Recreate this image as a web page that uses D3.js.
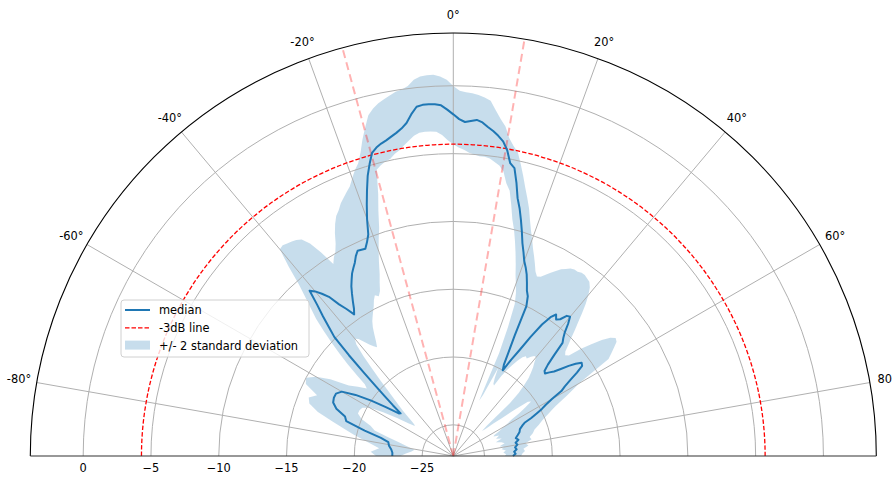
<!DOCTYPE html>
<html><head><meta charset="utf-8">
<script src="https://cdn.jsdelivr.net/npm/d3@7"></script>
<style>body{margin:0;background:#fff}svg{display:block}text{font-family:"DejaVu Sans",sans-serif;fill:#000}</style>
</head><body><svg id="chart" width="892" height="478"></svg>
<script>
// angle in degrees (0 = up, positive = clockwise)
const angles = [-90,-87,-84,-81,-78,-76,-74,-72,-70,-68,-66,-64,-62,-60,-58,-56,-54,-52,
 -51,-50,-49,-48,-47,-46,-45,-44,-43,-42,
 -41,-40,-39,-38,-37,-36,-35,-34,-33,-32,
 -31,-30,-29,-28,-27,-26,-25,-24,-23,-22,
 -21,-20,-19,-18,-17,-16,-15,-14,-13,-12,
 -11,-10,-9,-8,-7,-6,-5,-4,-3,-2,
 -1,0,1,2,3,4,5,6,7,8,
 9,10,11,12,13,14,15,16,17,18,
 19,20,21,22,23,24,25,26,27,28,
 29,30,31,32,33,34,35,36,37,38,
 39,40,41,42,43,44,45,46,47,48,
 49,50,51,52,53,54,55,56,57,58,
 59,60,61,62,63,64,65,66,
 68,70,72,74,76,78,80,82,84,86,88,90];
const median = [-22.8,-22.8,-22.7,-22.5,-22.4,-21.8,-20.5,-19.0,-18.8,-18.0,-17.6,-17.5,-17.5,-17.8,-18.8,-20.0,-21.2,-22.2,
 -22.3,-21.5,-20.7,-19.6,-18.3,-16.6,-14.9,-14.1,-13.2,-12.3,
 -11.15,-11.45,-11.9,-12.4,-13.3,-13.9,-14.55,-14.2,-13.7,-13.2,
 -12.7,-12.3,-11.9,-11.6,-11.3,-10.9,-10.6,-10.65,-10.7,-10.3,
 -9.8,-8.7,-7.7,-6.7,-5.7,-4.9,-4.15,-3.85,-3.65,-3.5,
 -3.3,-3.1,-2.85,-2.5,-1.9,-1.4,-1.3,-1.3,-1.32,-1.42,
 -1.75,-2.1,-2.45,-2.65,-2.55,-2.45,-2.6,-2.9,-3.15,-3.45,
 -3.8,-4.4,-5.3,-5.6,-6.6,-7.7,-8.4,-9.2,-10.0,-10.8,
 -11.4,-12.0,-12.4,-12.85,-13.4,-13.95,-14.3,-15.0,-17.3,-18.6,
 -19.6,-20.0,-19.0,-18.1,-16.8,-15.6,-14.8,-14.4,-14.7,-14.5,
 -14.0,-13.9,-14.4,-15.0,-15.4,-15.7,-16.8,-17.6,-18.1,-18.2,
 -17.9,-17.6,-17.1,-16.5,-16.0,-15.6,-15.7,-16.3,-17.0,-17.6,
 -18.0,-18.9,-19.5,-19.9,-20.4,-20.9,-21.5,-21.7,
 -22.0,-22.1,-22.3,-22.5,-22.35,-22.6,-22.5,-22.7,-22.6,-22.8,-22.7,-22.9];
const upper = [-21.6,-21.2,-21.8,-21.0,-19.8,-19.0,-18.0,-16.8,-16.0,-15.8,-16.3,-15.2,-15.0,-15.6,-16.6,-18.0,-18.6,-19.2,
 -18.9,-18.0,-17.0,-16.0,-15.0,-14.0,-13.0,-12.2,-11.3,-10.3,
 -8.8,-7.4,-7.3,-7.4,-7.5,-7.6,-7.8,-8.4,-9.4,-10.6,
 -10.2,-9.9,-9.4,-8.7,-8.1,-7.6,-7.3,-6.9,-6.6,-6.3,
 -6.0,-5.5,-5.0,-4.6,-3.9,-3.0,-2.2,-1.4,-1.0,-0.7,
 -0.5,-0.3,-0.1,0.0,0.2,0.6,0.8,0.85,0.85,0.7,
 0.45,0.0,-0.35,-0.45,-0.5,-0.6,-0.75,-0.95,-1.6,-2.2,
 -2.7,-3.5,-4.0,-4.4,-5.2,-6.0,-6.8,-7.5,-8.2,-9.0,
 -9.7,-10.3,-10.9,-11.4,-11.9,-12.4,-12.7,-12.6,-12.3,-12.0,
 -11.7,-11.4,-11.2,-11.0,-10.9,-10.9,-10.8,-10.8,-10.9,-11.0,
 -11.3,-11.8,-12.4,-13.1,-13.8,-14.4,-15.0,-15.5,-16.0,-16.2,
 -16.0,-15.0,-14.2,-13.4,-12.8,-12.5,-12.6,-13.0,-13.4,-13.8,
 -15.4,-16.6,-17.2,-17.8,-18.4,-18.9,-19.3,-19.6,
 -20.2,-20.6,-21.0,-21.2,-21.5,-21.4,-21.9,-21.7,-22.1,-22.0,-22.2,-22.3];
const lower = [-23.4,-23.8,-24.2,-24.4,-23.8,-23.2,-22.3,-21.2,-20.8,-20.0,-19.6,-19.6,-19.7,-20.2,-21.2,-22.3,-23.2,-23.7,
 -23.6,-23.3,-22.8,-22.3,-21.8,-21.2,-20.5,-19.6,-18.6,-17.4,
 -16.4,-16.0,-16.2,-16.6,-17.0,-17.3,-17.5,-17.1,-16.6,-16.1,
 -15.7,-15.4,-15.1,-14.8,-14.4,-14.1,-14.3,-14.0,-13.4,-12.8,
 -12.0,-11.2,-10.4,-9.6,-8.4,-7.2,-5.45,-5.2,-5.0,-4.9,
 -4.6,-4.4,-4.1,-3.8,-3.5,-3.33,-3.3,-3.3,-3.35,-3.6,
 -4.0,-4.3,-4.55,-4.7,-4.9,-5.0,-5.1,-5.1,-5.2,-5.4,
 -5.6,-6.0,-6.8,-7.3,-8.3,-9.3,-10.0,-10.8,-11.6,-12.4,
 -13.2,-13.8,-14.4,-15.2,-17.0,-19.0,-22.8,-22.3,-20.0,-20.8,
 -21.2,-21.3,-20.4,-19.8,-19.3,-18.8,-18.4,-18.2,-18.3,-18.0,
 -17.8,-17.8,-18.2,-18.5,-18.9,-19.3,-19.9,-20.6,-21.6,-24.0,
 -24.5,-24.2,-23.5,-22.8,-21.6,-20.5,-20.3,-20.9,-21.5,-22.2,
 -22.6,-23.0,-23.3,-23.6,-23.9,-24.0,-23.8,-23.6,
 -23.9,-23.5,-24.0,-23.6,-23.4,-23.8,-23.5,-23.7,-23.4,-23.6,-23.4,-23.5];
const radialTicks = [0,-5,-10,-15,-20,-25];
const angleTicks = [-80,-60,-40,-20,0,20,40,60,80];
const beamEdges = [-15.2, 9.7];
const legendLabels = ["median","-3dB line","+/- 2 standard deviation"];

const cx = 453.3, cy = 456, R = 423;
const rMin = -27.3, rMax = 3.9;
const r = d3.scaleLinear().domain([rMin, rMax]).range([0, R]);
const ang = d3.scaleLinear().domain([-90, 90]).range([-Math.PI/2, Math.PI/2]);
const threshold = d3.max(median) - 3;

const svg = d3.select('#chart');
const g = svg.append('g').attr('transform', `translate(${cx},${cy})`);
const data = angles.map((t,i)=>({t, m:median[i], u:upper[i], l:lower[i]}));

// band
g.append('path').datum(data)
  .attr('d', d3.areaRadial().angle(d=>ang(d.t)).innerRadius(d=>r(d.l)).outerRadius(d=>r(d.u)))
  .attr('fill','#1f77b4').attr('fill-opacity',0.25).attr('stroke','none');

// grid circles
const semicircle = rad => { const p = d3.path(); p.arc(0,0,rad,-Math.PI,0,false); return p.toString(); };
g.selectAll('.rgrid').data(radialTicks).join('path').attr('class','rgrid')
  .attr('d', v=>semicircle(r(v))).attr('fill','none').attr('stroke','#b0b0b0').attr('stroke-width',1);
// angular grid
g.selectAll('.agrid').data(angleTicks).join('line').attr('class','agrid')
  .attr('x1',0).attr('y1',0)
  .attr('x2',t=>R*Math.sin(ang(t))).attr('y2',t=>-R*Math.cos(ang(t)))
  .attr('stroke','#b0b0b0').attr('stroke-width',1);

// beam edge lines
g.selectAll('.beam').data(beamEdges).join('line').attr('class','beam')
  .attr('x1',0).attr('y1',0)
  .attr('x2',t=>R*Math.sin(ang(t))).attr('y2',t=>-R*Math.cos(ang(t)))
  .attr('stroke','#ff0000').attr('stroke-opacity',0.3).attr('stroke-width',2)
  .attr('stroke-dasharray','8,4.5');

// -3dB line
g.append('path').attr('d', semicircle(r(threshold)))
  .attr('fill','none').attr('stroke','#ff0000').attr('stroke-width',1.3).attr('stroke-dasharray','4.5,2');

// median
g.append('path').datum(data)
  .attr('d', d3.lineRadial().angle(d=>ang(d.t)).radius(d=>r(d.m)))
  .attr('fill','none').attr('stroke','#1f77b4').attr('stroke-width',2).attr('stroke-linejoin','round');

// spines
g.append('path').attr('d', semicircle(R)).attr('fill','none').attr('stroke','#000').attr('stroke-width',1.1);
g.append('line').attr('x1',-R).attr('x2',R).attr('y1',0).attr('y2',0).attr('stroke','#333').attr('stroke-width',1.1);

// angle labels
g.selectAll('.alab').data(angleTicks).join('text').attr('class','alab')
  .attr('x',t=>441*Math.sin(ang(t))).attr('y',t=>-441*Math.cos(ang(t)))
  .attr('text-anchor','middle').attr('dominant-baseline','central')
  .style('font-size','11.4px').text(t=>t+'°');
// radial labels
g.selectAll('.rlab').data(radialTicks).join('text').attr('class','rlab')
  .attr('x',v=>-r(v)).attr('y',11.5)
  .attr('text-anchor','middle').attr('dominant-baseline','central')
  .style('font-size','11.4px').text(v=>v<0?'\u2212'+Math.abs(v):String(v));

// legend
const lg = svg.append('g').attr('transform','translate(121,300)');
lg.append('rect').attr('width',188).attr('height',57).attr('rx',3)
  .attr('fill','#fff').attr('fill-opacity',0.8).attr('stroke','#d0d0d0').attr('stroke-width',1);
const rows = [10, 27.8, 45.6];
lg.append('line').attr('x1',4).attr('x2',29).attr('y1',rows[0]).attr('y2',rows[0]).attr('stroke','#1f77b4').attr('stroke-width',2);
lg.append('line').attr('x1',4).attr('x2',29).attr('y1',rows[1]).attr('y2',rows[1]).attr('stroke','#ff0000').attr('stroke-width',1.3).attr('stroke-dasharray','4.5,2');
lg.append('rect').attr('x',4).attr('y',rows[2]-5).attr('width',25).attr('height',9).attr('fill','#1f77b4').attr('fill-opacity',0.25);
lg.selectAll('.ltext').data(legendLabels).join('text').attr('class','ltext')
  .attr('x',38).attr('y',(d,i)=>rows[i]).attr('dominant-baseline','central')
  .style('font-size','11.4px').text(d=>d);
</script></body></html>
